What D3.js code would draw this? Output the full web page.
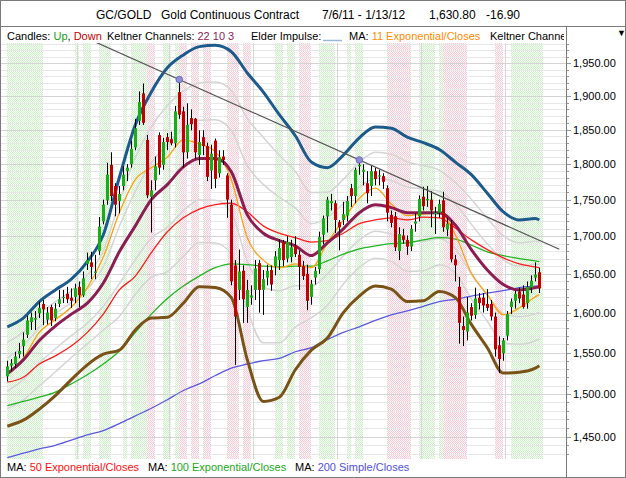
<!DOCTYPE html>
<html><head><meta charset="utf-8">
<script src="https://cdn.jsdelivr.net/npm/d3@7"></script>
<style>
body{margin:0;background:#fff;}
svg{display:block;font-family:"Liberation Sans",Arial,sans-serif;}
</style></head><body>
<svg id="c" width="626" height="478"></svg>
<script>
// ---------- DATA ----------
const opens=[1521,1534,1536,1548,1558,1572,1588,1591,1599,1611,1591,1607,1593,1611,1619,1624,1619,1620,1633,1622,
1663,1665,1651,1680,1720,1749,1799,1769,1748,1769,1790,1800,1824,1863,1904,1835,1754,1777,1842,1799,
1839,1836,1830,1906,1877,1817,1867,1866,1813,1839,1826,1791,1834,1787,1811,1784,1743,1661,1629,1654,
1607,1619,1629,1664,1629,1645,1655,1660,1668,1692,1670,1672,1687,1675,1660,1650,1620,1645,1656,1702,
1727,1745,1745,1719,1722,1728,1766,1755,1797,1789,1773,1769,1790,1783,1783,1766,1729,1727,1680,1701,
1695,1686,1717,1727,1754,1749,1750,1730,1732,1749,1709,1717,1669,1633,1583,1576,1607,1597,1619,1619,
1611,1611,1595,1559,1549,1571,1607,1615,1627,1623,1612,1632,1645,1652];
const highs=[1540,1542,1551,1562,1575,1596,1600,1602,1614,1616,1607,1610,1612,1629,1629,1633,1631,1637,1640,1653,
1678,1679,1675,1726,1750,1802,1817,1773,1769,1797,1800,1834,1866,1907,1919,1842,1777,1811,1846,1838,
1845,1847,1885,1925,1884,1889,1880,1867,1849,1849,1831,1828,1837,1820,1820,1787,1750,1668,1682,1661,
1642,1635,1668,1668,1655,1662,1661,1680,1696,1695,1700,1695,1700,1681,1667,1662,1642,1659,1706,1728,
1754,1758,1749,1722,1747,1755,1772,1795,1806,1800,1790,1798,1795,1792,1787,1770,1735,1733,1712,1710,
1701,1715,1731,1756,1768,1769,1762,1740,1750,1761,1725,1722,1675,1646,1595,1620,1612,1632,1625,1625,
1630,1616,1600,1570,1568,1602,1618,1628,1632,1635,1640,1648,1665,1658];
const lows=[1515,1527,1531,1543,1545,1568,1578,1578,1593,1584,1585,1583,1589,1607,1612,1612,1606,1612,1607,1620,
1655,1643,1643,1675,1716,1743,1748,1727,1731,1763,1776,1795,1820,1857,1857,1752,1705,1763,1785,1792,
1820,1827,1824,1866,1795,1808,1849,1808,1799,1813,1776,1765,1766,1781,1799,1725,1635,1535,1616,1587,
1587,1610,1616,1600,1597,1635,1628,1648,1655,1660,1665,1665,1672,1629,1642,1603,1610,1636,1650,1689,
1705,1735,1704,1681,1715,1720,1740,1745,1785,1770,1745,1755,1770,1770,1765,1720,1712,1680,1668,1690,
1675,1680,1706,1720,1735,1740,1712,1703,1725,1706,1700,1665,1640,1561,1558,1565,1590,1592,1604,1600,
1602,1590,1545,1525,1540,1565,1598,1605,1612,1605,1605,1625,1640,1625];
const closes=[1533,1537,1545,1552,1566,1590,1594,1593,1606,1604,1600,1590,1605,1617,1620,1617,1615,1631,1622,1644,
1668,1659,1653,1713,1743,1785,1755,1743,1758,1785,1795,1822,1852,1891,1860,1756,1763,1797,1795,1832,
1832,1830,1877,1872,1817,1857,1858,1817,1832,1826,1782,1815,1779,1810,1806,1750,1640,1595,1653,1617,
1629,1622,1657,1629,1643,1654,1636,1673,1684,1668,1692,1685,1676,1659,1647,1615,1637,1654,1699,1724,
1750,1748,1722,1712,1730,1748,1755,1792,1799,1792,1759,1790,1779,1784,1775,1732,1718,1685,1703,1695,
1686,1710,1720,1751,1741,1751,1735,1732,1744,1712,1717,1669,1661,1587,1578,1600,1596,1618,1612,1609,
1606,1595,1554,1542,1565,1598,1614,1624,1618,1607,1633,1641,1649,1631];

// Elder impulse background per bar: g = green, r = red, n = neutral
const impulse=["ggggggggg","nnnnnnnn","g","n","gg","nn","ggg","nnn","g","n","gggg","rr","nn","gg","n","g",
"rr","n","rr","n","rr","nnnn","rrr","n","rr","nnnnnn","gg","n","gg","n","rrr","nn","gggg","nnn","g","n","gg",
"nnnnnn","rrrrrr","nn","gggg","n","g","rrrrrr","nnnnnnn","rr","nn","gggggggg"].join("").split("");

// overlay lines sampled at these bar indices
const lineIdx=[0,4,8,12,16,20,24,28,32,36,40,44,48,52,56,60,64,68,72,76,80,84,88,92,96,100,104,108,112,116,120,124,128,132,133];
const kcUpper=[1582,1593,1614,1629,1643,1666,1702,1781,1857,1906,1943,1963,1976,1978,1968,1935,1906,1872,1841,1803,1795,1813,1838,1854,1852,1839,1831,1821,1803,1785,1759,1733,1722,1724,1722];
const kcMid=[1524,1541,1565,1583,1598,1612,1638,1679,1714,1750,1771,1796,1808,1808,1789,1729,1704,1694,1687,1674,1691,1710,1732,1743,1739,1732,1732,1732,1715,1682,1655,1636,1629,1632,1633];
const kcLower=[1462,1469,1482,1498,1517,1535,1548,1553,1578,1593,1594,1612,1633,1632,1619,1541,1491,1496,1529,1553,1568,1600,1621,1634,1630,1614,1615,1627,1619,1585,1556,1525,1526,1531,1534];
const ema11=[1523,1543,1575,1591,1607,1632,1672,1732,1778,1795,1810,1835,1829,1818,1778,1698,1668,1658,1663,1658,1691,1722,1752,1766,1744,1728,1730,1732,1702,1651,1623,1597,1606,1620,1623];
const ema50=[1514,1520,1536,1546,1558,1575,1598,1629,1647,1678,1706,1725,1737,1743,1745,1733,1714,1704,1698,1692,1694,1704,1717,1722,1725,1722,1726,1725,1711,1695,1682,1671,1663,1659,1658];
const ema100=[1486,1491,1496,1502,1512,1523,1536,1552,1575,1598,1618,1634,1647,1658,1663,1662,1660,1659,1660,1660,1667,1676,1683,1687,1690,1691,1695,1698,1696,1688,1679,1674,1670,1667,1666];
const sma200=[1426,1431,1436,1440,1446,1452,1457,1465,1474,1483,1493,1504,1512,1522,1531,1536,1540,1543,1551,1556,1566,1575,1582,1590,1597,1602,1608,1614,1617,1621,1625,1628,1632,1634,1634];

// trendline through two highs, extended over this bar range
const trendPts=[{i:43,v:1925},{i:88,v:1806}];
const trendRange=[20,138];

const monthStarts=[18,41,62,83,104,125];
const yTicks=[1450,1500,1550,1600,1650,1700,1750,1800,1850,1900,1950];

// ---------- DRAW ----------
const svg=d3.select("#c");
const x=d3.scaleLinear().domain([0,133]).range([7.33,539.33]);
const y=d3.scaleLog().domain([1450,1950]).range([436.6,63.3]);
const PL=1,PR=566,PT=43,PB=459;

const defs=svg.append("defs");
defs.append("clipPath").attr("id","plot").append("rect").attr("x",PL).attr("y",PT).attr("width",PR-PL).attr("height",PB-PT);
defs.append("clipPath").attr("id","leg").append("rect").attr("x",0).attr("y",27).attr("width",564).attr("height",16);
function pat(id,c1,c2){
  const p=defs.append("pattern").attr("id",id).attr("width",2).attr("height",2).attr("patternUnits","userSpaceOnUse");
  p.append("rect").attr("width",2).attr("height",2).attr("fill",c2);
  p.append("rect").attr("width",1).attr("height",1).attr("fill",c1);
  p.append("rect").attr("x",1).attr("y",1).attr("width",1).attr("height",1).attr("fill",c1);
}
pat("pg","#cdf1c6","#f8fdf7");
pat("pr","#f9cbd6","#fef6f8");

svg.append("rect").attr("width",626).attr("height",478).attr("fill","#fff");
const g=svg.append("g").attr("clip-path","url(#plot)");

// impulse stripes (merge runs)
let runs=[];
impulse.forEach((c,i)=>{ if(runs.length&&runs[runs.length-1].c===c&&runs[runs.length-1].e===i-1){runs[runs.length-1].e=i;} else runs.push({c,s:i,e:i}); });
runs.filter(r=>r.c!=="n").forEach(r=>{
  const x0=Math.round(x(r.s)-0.5), x1=Math.round(x(r.e)+3.5);
  g.append("rect").attr("x",x0).attr("y",PT).attr("width",x1-x0).attr("height",PB-PT)
   .attr("fill",r.c==="g"?"url(#pg)":"url(#pr)");
});

// horizontal grid
d3.range(1420,1990,10).forEach(v=>{
  const yy=Math.round(y(v))+0.5;
  g.append("line").attr("x1",PL).attr("x2",PR).attr("y1",yy).attr("y2",yy)
   .attr("stroke",v%50===0?"#d4d4d4":"#e8e8e8").attr("stroke-width",1);
});
// month lines
monthStarts.forEach(i=>{
  const xx=Math.round(x(i)-2)+0.5;
  g.append("line").attr("x1",xx).attr("x2",xx).attr("y1",PT).attr("y2",PB).attr("stroke","#d8d8d8");
});

const line=d3.line().x(d=>x(d[0])).y(d=>y(d[1])).curve(d3.curveMonotoneX);
function drawLine(vals,color,w){
  g.append("path").datum(lineIdx.map((i,k)=>[i,vals[k]])).attr("d",line)
   .attr("fill","none").attr("stroke",color).attr("stroke-width",w).attr("stroke-linejoin","round");
}
// inner Keltner channels (multipliers 1 and 2 of the 3-ATR channel)
[1,2].forEach(k=>{
  drawLine(kcMid.map((m,j)=>m+(kcUpper[j]-m)*k/3),"#d5d5d5",1.5);
  drawLine(kcMid.map((m,j)=>m-(m-kcLower[j])*k/3),"#d5d5d5",1.5);
});
drawLine(sma200,"#5a5ade",1.3);
drawLine(ema100,"#22b422",1.3);
drawLine(ema50,"#ff1c1c",1.3);
drawLine(ema11,"#ffa010",1.3);
drawLine(kcMid,"#8c1d52",3);
drawLine(kcUpper,"#1d5a8c",3);
drawLine(kcLower,"#7a5218",3);

// candles
opens.forEach((o,i)=>{
  const c=closes[i], cx=Math.round(x(i));
  g.append("line").attr("x1",cx+0.5).attr("x2",cx+0.5).attr("y1",y(highs[i])).attr("y2",y(lows[i])).attr("stroke","#000").attr("stroke-width",1);
  const top=y(Math.max(o,c)), bot=y(Math.min(o,c));
  g.append("rect").attr("x",cx-1).attr("width",3).attr("y",top).attr("height",Math.max(1.2,bot-top))
   .attr("fill",c>=o?"#14b014":"#c20000");
});

// trendline
const tx=trendPts.map(p=>x(p.i)), ty=trendPts.map(p=>y(p.v));
const slope=(ty[1]-ty[0])/(tx[1]-tx[0]);
const ex0=x(trendRange[0]), ex1=x(trendRange[1]);
g.append("line").attr("x1",ex0).attr("y1",ty[0]+slope*(ex0-tx[0])).attr("x2",ex1).attr("y2",ty[0]+slope*(ex1-tx[0]))
 .attr("stroke","#555").attr("stroke-width",1.2);
trendPts.forEach(p=>g.append("circle").attr("cx",x(p.i)).attr("cy",y(p.v)).attr("r",3.3).attr("fill","#8c8cd8").attr("stroke","#6060b0").attr("stroke-width",0.8));

// ---------- frame, axis, legends ----------
const fr="#7a7a7a";
svg.append("line").attr("x1",0).attr("x2",626).attr("y1",0.5).attr("y2",0.5).attr("stroke",fr);
svg.append("line").attr("x1",0).attr("x2",626).attr("y1",26.5).attr("y2",26.5).attr("stroke",fr);
const tt=[["GC/GOLD",96],["Gold Continuous Contract",161],["7/6/11 - 1/13/12",322],["1,630.80",429],["-16.90",486]];
tt.forEach(t=>svg.append("text").attr("x",t[1]).attr("y",19).attr("font-size",12).attr("fill","#000").text(t[0]));

svg.append("rect").attr("x",1).attr("y",27).attr("width",565).attr("height",16).attr("fill","#fff");
const lg=svg.append("g").attr("clip-path","url(#leg)").attr("font-size",11);
function seg(parent,xx,yy,parts){
  const t=parent.append("text").attr("x",xx).attr("y",yy);
  parts.forEach(p=>t.append("tspan").attr("fill",p[1]).text(p[0]));
}
seg(lg,7,40,[["Candles: ","#000"],["Up","#11a011"],[", ","#000"],["Down","#c00000"]]);
seg(lg,107,40,[["Keltner Channels: ","#000"],["22 10 3","#8c1d52"]]);
seg(lg,251,40,[["Elder Impulse: ","#000"]]);
lg.append("line").attr("x1",323).attr("x2",342).attr("y1",40.5).attr("y2",40.5).attr("stroke","#9ab8dc").attr("stroke-width",1.5);
seg(lg,349,40,[["MA: ","#000"],["11 Exponential/Closes","#ff8c00"]]);
seg(lg,490,40,[["Keltner Channels: 22 10 2","#000"]]);
svg.append("text").attr("x",617).attr("y",36).attr("font-size",9).attr("fill","#000").text("▼");

svg.append("rect").attr("x",1).attr("y",459).attr("width",565).attr("height",18).attr("fill","#fff");
const bl=svg.append("g").attr("font-size",11);
seg(bl,7,471,[["MA: ","#000"],["50 Exponential/Closes","#ff1010"]]);
seg(bl,148,471,[["MA: ","#000"],["100 Exponential/Closes","#1aa81a"]]);
seg(bl,295,471,[["MA: ","#000"],["200 Simple/Closes","#5050d8"]]);

const ax=svg.append("g");
d3.range(1430,1990,10).forEach(v=>{
  const yy=y(v); if(yy<PT||yy>PB) return;
  ax.append("line").attr("x1",566).attr("x2",v%50===0?571:569).attr("y1",Math.round(yy)+0.5).attr("y2",Math.round(yy)+0.5).attr("stroke","#999");
});
yTicks.forEach(v=>ax.append("text").attr("x",573).attr("y",y(v)+4).attr("font-size",11).attr("fill","#000").text(d3.format(",.2f")(v)));

svg.append("line").attr("x1",0.5).attr("x2",0.5).attr("y1",0).attr("y2",478).attr("stroke",fr);
svg.append("line").attr("x1",625.5).attr("x2",625.5).attr("y1",0).attr("y2",478).attr("stroke",fr);
svg.append("line").attr("x1",566.5).attr("x2",566.5).attr("y1",27).attr("y2",478).attr("stroke",fr);
svg.append("line").attr("x1",0).attr("x2",626).attr("y1",477.5).attr("y2",477.5).attr("stroke",fr);
</script>
</body></html>
